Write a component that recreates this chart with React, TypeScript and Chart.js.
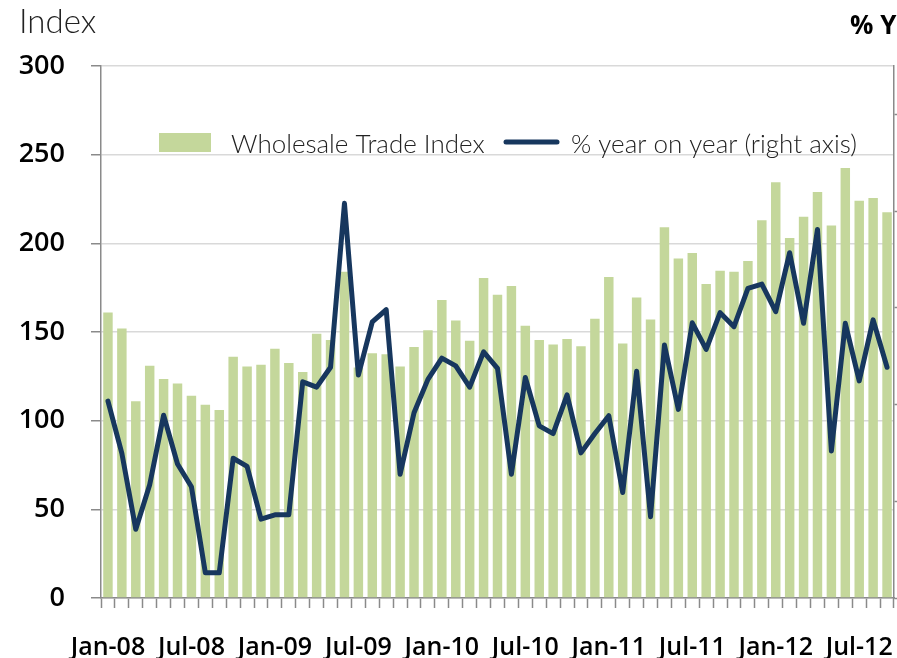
import React, { useEffect, useRef } from 'react';
import { Chart, registerables } from 'chart.js';

Chart.register(...registerables);

const months: string[] = [
  'Jan-08', 'Feb-08', 'Mar-08', 'Apr-08', 'May-08', 'Jun-08', 'Jul-08', 'Aug-08', 'Sep-08', 'Oct-08', 'Nov-08', 'Dec-08',
  'Jan-09', 'Feb-09', 'Mar-09', 'Apr-09', 'May-09', 'Jun-09', 'Jul-09', 'Aug-09', 'Sep-09', 'Oct-09', 'Nov-09', 'Dec-09',
  'Jan-10', 'Feb-10', 'Mar-10', 'Apr-10', 'May-10', 'Jun-10', 'Jul-10', 'Aug-10', 'Sep-10', 'Oct-10', 'Nov-10', 'Dec-10',
  'Jan-11', 'Feb-11', 'Mar-11', 'Apr-11', 'May-11', 'Jun-11', 'Jul-11', 'Aug-11', 'Sep-11', 'Oct-11', 'Nov-11', 'Dec-11',
  'Jan-12', 'Feb-12', 'Mar-12', 'Apr-12', 'May-12', 'Jun-12', 'Jul-12', 'Aug-12', 'Sep-12',
];

const wholesaleIndex: number[] = [
  161, 152, 111, 131, 123.5, 121, 114, 109, 106, 136, 130.5, 131.5,
  140.5, 132.5, 127.5, 149, 145.5, 184, 130, 138, 137.5, 130.5, 141.5, 151,
  168, 156.5, 145, 180.5, 171, 176, 153.5, 145.5, 143, 146, 142, 157.5,
  181, 143.5, 169.5, 157, 209, 191.5, 194.5, 177, 184.5, 184, 190, 213,
  234.5, 203, 215, 229, 210, 242.5, 224, 225.5, 217.5,
];

const yoyPercent: number[] = [
  0.7, -10.1, -25.8, -16.6, -2.2, -12.3, -17, -34.8, -34.8, -11.1, -12.8, -23.7,
  -22.8, -22.8, 4.7, 3.6, 7.7, 41.6, 6.1, 17.1, 19.6, -14.4, -1.7, 5.2,
  9.6, 8, 3.6, 10.9, 7.5, -14.4, 5.6, -4.4, -6, 2, -10, -6,
  -2.3, -18.2, 6.9, -23.2, 12.3, -1, 16.9, 11.4, 19, 16.1, 24, 24.9,
  19.2, 31.4, 16.8, 36.2, -9.6, 16.8, 4.9, 17.5, 7.7,
];

const leftTicks = { min: 0, max: 300, step: 50 };
const rightTicks = { min: -40, max: 70, step: 20 };

const seriesNames = ['Wholesale Trade Index', '% year on year (right axis)'];

const FONT = 'Lato, "Open Sans", sans-serif';
const TICK_FONT = '"Open Sans", Lato, sans-serif';
const BAR_COLOR = '#c4d79b';
const LINE_COLOR = '#17375e';
const AXIS_COLOR = '#8a8a8a';
const GRID_COLOR = '#d9d9d9';

export default function App() {
  const ref = useRef<HTMLCanvasElement | null>(null);

  useEffect(() => {
    if (!ref.current) return;
    const legendPlugin = {
      id: 'insideLegend',
      afterDraw(chart: any) {
        const ctx = chart.ctx as CanvasRenderingContext2D;
        const ds = chart.data.datasets;
        ctx.save();
        ctx.fillStyle = ds[0].backgroundColor;
        ctx.fillRect(159, 133, 52, 19);
        ctx.font = `300 26px ${FONT}`;
        ctx.fillStyle = '#222';
        ctx.textBaseline = 'alphabetic';
        ctx.textAlign = 'left';
        ctx.fillText(ds[0].label, 231, 153);
        ctx.strokeStyle = ds[1].borderColor;
        ctx.lineWidth = 5;
        ctx.lineCap = 'round';
        ctx.beginPath();
        ctx.moveTo(506, 142);
        ctx.lineTo(557, 142);
        ctx.stroke();
        ctx.fillText(ds[1].label, 571, 153);
        ctx.restore();
      },
    };

    const chart = new Chart(ref.current, {
      type: 'bar',
      data: {
        labels: months,
        datasets: [
          {
            type: 'bar',
            label: seriesNames[0],
            data: wholesaleIndex,
            backgroundColor: BAR_COLOR,
            borderWidth: 0,
            barPercentage: 0.68,
            categoryPercentage: 1,
            yAxisID: 'y',
            order: 2,
          },
          {
            type: 'line',
            label: seriesNames[1],
            data: yoyPercent,
            borderColor: LINE_COLOR,
            backgroundColor: LINE_COLOR,
            borderWidth: 5,
            pointRadius: 0,
            tension: 0,
            borderJoinStyle: 'round',
            borderCapStyle: 'round',
            yAxisID: 'y1',
            order: 1,
          } as any,
        ],
      },
      options: {
        responsive: false,
        animation: false,
        devicePixelRatio: 1,
        layout: { padding: { top: 66, left: 0, right: 0, bottom: 0 } },
        plugins: {
          legend: { display: false },
          tooltip: { enabled: false },
        },
        scales: {
          x: {
            offset: true,
            grid: {
              display: true,
              drawOnChartArea: false,
              drawTicks: true,
              tickLength: 10,
              tickColor: AXIS_COLOR,
              tickWidth: 1.5,
              offset: true,
            },
            border: { display: true, color: AXIS_COLOR, width: 1.5 },
            ticks: {
              autoSkip: false,
              maxRotation: 0,
              minRotation: 0,
              padding: 25,
              color: '#000',
              font: { family: TICK_FONT, size: 25, weight: '600' },
              callback: (_v: any, i: number) => (i % 6 === 0 ? months[i] : ''),
            },
            afterFit: (s: any) => {
              s.height = 60;
              s.paddingLeft = 0;
              s.paddingRight = 0;
            },
          },
          y: {
            position: 'left',
            min: leftTicks.min,
            max: leftTicks.max,
            grid: {
              color: GRID_COLOR,
              lineWidth: 1.5,
              tickLength: 10,
              tickColor: AXIS_COLOR,
              tickWidth: 1.5,
            },
            border: { display: true, color: AXIS_COLOR, width: 1.5 },
            ticks: {
              stepSize: leftTicks.step,
              padding: 26,
              color: '#000',
              font: { family: TICK_FONT, size: 27, weight: '600' },
            },
            afterFit: (s: any) => {
              s.width = 101;
            },
          },
          y1: {
            position: 'right',
            min: rightTicks.min,
            max: rightTicks.max,
            grid: {
              drawOnChartArea: false,
              tickLength: 8,
              tickColor: AXIS_COLOR,
              tickWidth: 1.5,
            },
            border: { display: true, color: AXIS_COLOR, width: 1.5 },
            ticks: {
              stepSize: rightTicks.step,
              includeBounds: false,
              display: false,
            },
            afterFit: (s: any) => {
              s.width = 3;
            },
          },
        },
      },
      plugins: [legendPlugin],
    });
    return () => chart.destroy();
  }, []);

  return (
    <div
      style={{
        position: 'absolute',
        left: 0,
        top: 0,
        width: 897,
        height: 658,
        overflow: 'hidden',
        background: '#fff',
      }}
    >
      <canvas ref={ref} width={897} height={658} style={{ display: 'block' }} />
      <div
        style={{
          position: 'absolute',
          left: 19,
          top: 0,
          font: `300 33px ${FONT}`,
          color: '#222',
          whiteSpace: 'nowrap',
        }}
      >
        Index
      </div>
      <div
        style={{
          position: 'absolute',
          left: 850,
          top: 6,
          font: `bold 26px ${TICK_FONT}`,
          color: '#000',
          whiteSpace: 'nowrap',
        }}
      >
        % YoY
      </div>
    </div>
  );
}
